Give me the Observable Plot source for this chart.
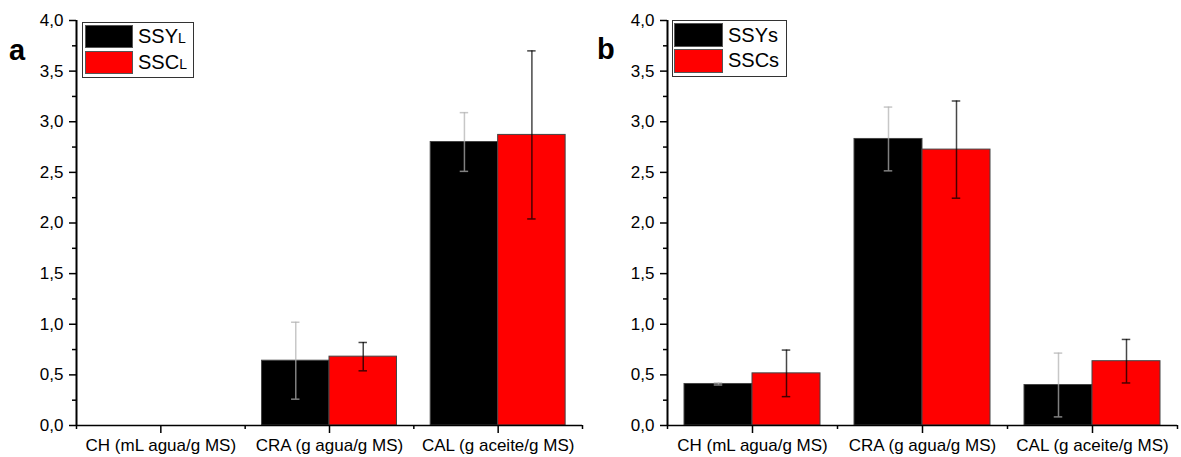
<!DOCTYPE html>
<html>
<head>
<meta charset="utf-8">
<script src="https://cdn.jsdelivr.net/npm/d3@7"></script>
<script src="https://cdn.jsdelivr.net/npm/@observablehq/plot@0.6"></script>
<style>
  html, body { margin: 0; padding: 0; background: #fff; }
  #root { position: relative; width: 1181px; height: 457px; overflow: hidden; background: #fff;
          font-family: 'Liberation Sans', Arial, sans-serif; color: #000; }
  .panel { position: absolute; top: 0; }
  .letter { position: absolute; font-weight: bold; font-size: 29px; line-height: 29px; }
  .legend { position: absolute; border: 1px solid #333; background: #fff; box-sizing: border-box; }
  .sw { position: absolute; box-sizing: border-box; border: 1px solid #555; }
  .lt { position: absolute; font-size: 20px; line-height: 20px; white-space: nowrap; }
  .lt sub { font-size: 14px; vertical-align: baseline; }
</style>
</head>
<body>
<div id="root"></div>
<script>
// ---------- data ----------
const categories = ["CH (mL agua/g MS)", "CRA (g agua/g MS)", "CAL (g aceite/g MS)"];
const seriesA = ["SSYL", "SSCL"];
const seriesB = ["SSYs", "SSCs"];
const colors = ["#000000", "#ff0000"];

// panel a (values, std. errors) — CH has no bars
const aSSY    = [null, 0.64, 2.80];
const aSSYerr = [null, 0.38, 0.29];
const aSSC    = [null, 0.68, 2.87];
const aSSCerr = [null, 0.14, 0.83];

// panel b
const bSSY    = [0.41, 2.83, 0.40];
const bSSYerr = [0.01, 0.315, 0.315];
const bSSC    = [0.515, 2.725, 0.635];
const bSSCerr = [0.23, 0.48, 0.215];

const yMajor = [0, 0.5, 1, 1.5, 2, 2.5, 3, 3.5, 4];
const yMinor = [0.25, 0.75, 1.25, 1.75, 2.25, 2.75, 3.25, 3.75];

// ---------- chart ----------
const barW = 0.4;   // bar width in category units
const capW = 0.025; // half width of error caps
const fmt = v => d3.format(".1f")(v).replace(".", ",");

function buildRows(series, vals, errs) {
  const rows = [];
  categories.forEach((c, i) => {
    series.forEach((s, j) => {
      const v = vals[j][i];
      if (v == null) return;
      rows.push({cat: i + 1, j, series: s, value: v, err: errs[j][i],
                 x: i + 1 + (j === 0 ? -barW / 2 : barW / 2)});
    });
  });
  return rows;
}

function errMarks(rows, j, stroke, opacity) {
  const r = rows.filter(d => d.j === j);
  const o = {stroke, strokeOpacity: opacity, strokeWidth: 1.5};
  return [
    Plot.ruleX(r, {x: "x", y1: d => d.value - d.err, y2: d => d.value + d.err, ...o}),
    Plot.ruleY(r, {y: d => d.value + d.err, x1: d => d.x - capW, x2: d => d.x + capW, ...o}),
    Plot.ruleY(r, {y: d => d.value - d.err, x1: d => d.x - capW, x2: d => d.x + capW, ...o})
  ];
}

function panel(series, vals, errs, width, marginLeft, marginRight) {
  const rows = buildRows(series, vals, errs);
  return Plot.plot({
    width, height: 457,
    marginLeft, marginRight, marginTop: 20, marginBottom: 32,
    style: {fontFamily: "'Liberation Sans', Arial, sans-serif", fontSize: "17px", background: "transparent", color: "#000"},
    x: {domain: [0.5, 3.5], axis: null},
    y: {domain: [0, 4], axis: null},
    color: {domain: series, range: colors},
    marks: [
      Plot.rectY(rows, {x1: d => d.x - barW / 2, x2: d => d.x + barW / 2, y1: 0, y2: "value",
                        fill: "series", stroke: "#444", strokeWidth: 1}),
      ...errMarks(rows, 0, "rgb(178,178,178)", 0.72),
      ...errMarks(rows, 1, "#000", 0.72),
      Plot.ruleX([0.5], {stroke: "#000", strokeWidth: 2}),
      Plot.ruleY([0], {stroke: "#000", strokeWidth: 1.5}),
      Plot.axisY({ticks: yMajor, tickSize: 7, tickPadding: 6, tickFormat: fmt, strokeWidth: 1.5, label: null, fontSize: 17}),
      Plot.axisY({ticks: yMinor, tickSize: 4, tickFormat: () => "", strokeWidth: 1.5, label: null}),
      Plot.axisX({ticks: [1, 2, 3], tickSize: 8, tickPadding: 5, tickFormat: i => categories[i - 1], strokeWidth: 1.5, label: null, fontSize: 17}),
      Plot.axisX({ticks: [0.5, 1.5, 2.5, 3.5], tickSize: 4, tickFormat: () => "", strokeWidth: 1.5, label: null})
    ]
  });
}

const root = document.getElementById("root");

function place(el, left) {
  const w = document.createElement("div");
  w.className = "panel";
  w.style.left = left + "px";
  w.appendChild(el);
  root.appendChild(w);
}

place(panel(seriesA, [aSSY, aSSC], [aSSYerr, aSSCerr], 600, 76, 18), 0);
place(panel(seriesB, [bSSY, bSSC], [bSSYerr, bSSCerr], 591, 77, 4), 590);

// panel letters
function letter(t, left, top) {
  const d = document.createElement("div");
  d.className = "letter"; d.textContent = t;
  d.style.left = left + "px"; d.style.top = top + "px";
  root.appendChild(d);
}
letter("a", 9, 36);
letter("b", 597, 35);

// legends
function legend(box, swX, swW, swTops, swH, textX, textTops, labels) {
  const b = document.createElement("div");
  b.className = "legend";
  Object.assign(b.style, {left: box[0] + "px", top: box[1] + "px", width: box[2] + "px", height: box[3] + "px"});
  root.appendChild(b);
  labels.forEach((lab, k) => {
    const s = document.createElement("div");
    s.className = "sw";
    Object.assign(s.style, {left: swX + "px", top: swTops[k] + "px", width: swW + "px", height: swH + "px", background: colors[k]});
    root.appendChild(s);
    const t = document.createElement("div");
    t.className = "lt";
    t.style.left = textX + "px"; t.style.top = textTops[k] + "px";
    t.innerHTML = lab;
    root.appendChild(t);
  });
}
legend([82, 22, 112, 56], 85, 48, [25, 51], 23, 138, [26, 52],
       ["SSY<sub>L</sub>", "SSC<sub>L</sub>"]);
legend([672, 20, 115, 57], 674, 49, [23, 49], 24, 728, [25, 50],
       ["SSYs", "SSCs"]);
</script>
</body>
</html>
